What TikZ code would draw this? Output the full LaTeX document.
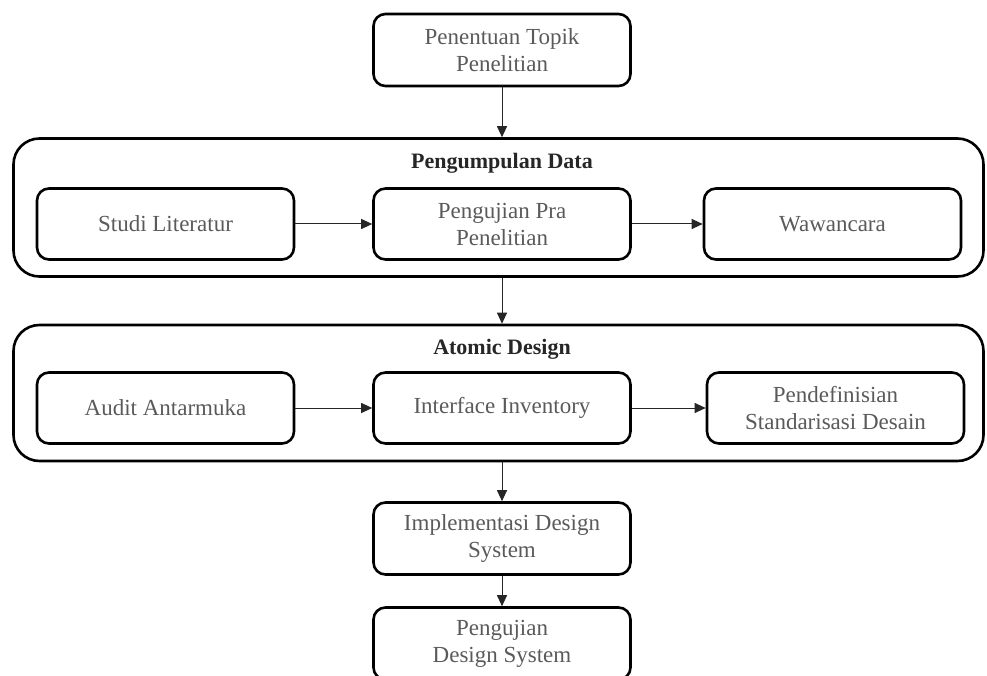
\documentclass[tikz,border=0pt]{standalone}
\usepackage{fontspec}
\setmainfont{Liberation Serif}
\usetikzlibrary{arrows.meta}
\definecolor{txtgray}{HTML}{5A5A5A}
\definecolor{ttl}{HTML}{262626}
\begin{document}
\begin{tikzpicture}[x=1pt,y=-1pt,
  stepbox/.style={draw=black, line width=2.6pt, rounded corners=12pt, minimum width=257pt, minimum height=71pt, align=center, text=txtgray, inner sep=0pt, font=\fontsize{23}{27}\selectfont},
  groupbox/.style={draw=black, line width=2.6pt, rounded corners=26pt, minimum width=970pt, inner sep=0pt},
  grouptitle/.style={text=ttl, font=\bfseries\fontsize{22}{26}\selectfont, inner sep=0pt},
  conn/.style={draw=black!85, line width=1pt, -{Triangle[length=11pt,width=10pt]}}
]
\useasboundingbox (0,0) rectangle (987,676);
\clip (0,0) rectangle (987,676);
% groups
\node[groupbox, minimum height=138pt] (g1) at (498.5,207.5) {};
\node[groupbox, minimum height=136pt] (g2) at (498.5,393) {};
\node[grouptitle] (t1) at (502,163) {Pengumpulan Data};
\node[grouptitle] (t2) at (502,349) {Atomic Design};
% steps
\node[stepbox, minimum height=72pt] (top) at (502,50) {Penentuan Topik\\Penelitian};
\node[stepbox] (studi) at (165.5,224) {Studi Literatur};
\node[stepbox] (pra) at (502,224) {Pengujian Pra\\Penelitian};
\node[stepbox] (waw) at (832.5,224) {Wawancara};
\node[stepbox] (audit) at (165.5,408) {Audit Antarmuka};
\node[stepbox] (inv) at (502,408) {Interface Inventory};
\node[stepbox] (def) at (835.5,408) {Pendefinisian\\Standarisasi Desain};
\node[stepbox, minimum height=72pt] (impl) at (502,538.5) {Implementasi Design\\System};
\node[stepbox, minimum height=72pt] (uji) at (502,643.5) {Pengujian\\Design System};
% connectors
\draw[conn] (top.south) -- (g1.north -| top.south);
\draw[conn] (studi.east) -- (pra.west);
\draw[conn] (pra.east) -- (waw.west);
\draw[conn] (g1.south -| pra.south) -- (g2.north -| pra.south);
\draw[conn] (audit.east) -- (inv.west);
\draw[conn] (inv.east) -- (def.west);
\draw[conn] (g2.south -| impl.north) -- (impl.north);
\draw[conn] (impl.south) -- (uji.north);
\end{tikzpicture}
\end{document}
